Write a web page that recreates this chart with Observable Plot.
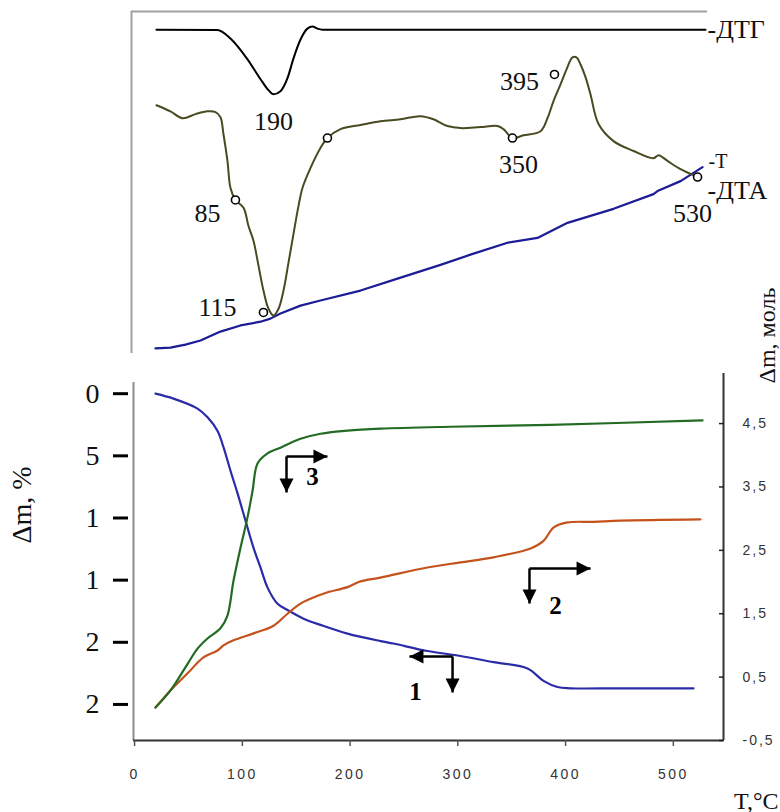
<!DOCTYPE html>
<html><head><meta charset="utf-8">
<script src="https://cdn.jsdelivr.net/npm/d3@7"></script>
<script src="https://cdn.jsdelivr.net/npm/@observablehq/plot@0.6"></script>
<style>
body{margin:0;background:#fff}
#chart{position:relative;width:780px;height:812px;overflow:hidden;background:#fff}
#chart svg{position:absolute;left:0;top:0}
</style></head><body><div id="chart"></div>
<script>
// ---------- data: upper panel (DTG, DTA, T), x = temperature °C, y = arbitrary signal ----------
const dtgTemp   = [20.3,76.9,89.0,104.8,116.9,124.3,128.9,135.4,141.9,147.5,154.0,160.4,165.1,169.7,174.4,529.9];
const dtgSignal = [94.7,94.6,92.1,86.0,80.2,77.0,75.8,76.7,80.5,86.3,91.8,95.0,95.6,95.0,94.7,94.7];

const dtaTemp   = [20.3,33.3,44.5,56.5,67.7,75.1,79.7,82.5,86.2,89.0,93.6,101.1,105.7,110.4,115.0,119.6,124.3,128.9,133.6,138.2,142.8,147.5,152.1,155.8,163.2,172.5,179.0,191.1,209.7,228.2,246.8,265.3,277.4,290.4,302.5,321.0,336.8,342.4,350.7,360.9,376.7,383.2,388.8,395.3,400.9,406.4,410.1,413.9,418.5,423.1,430.6,444.5,463.1,481.6,486.3,494.6,506.7,522.5];
const dtaSignal = [72.6,70.8,68.8,70.0,70.8,70.6,69.1,64.1,56.3,48.4,44.9,42.6,37.3,32.9,25.7,18.4,13.1,11.1,13.1,18.4,26.5,35.0,43.1,48.4,54.2,60.1,63.0,65.6,66.8,67.9,68.5,69.4,68.5,66.5,65.9,66.2,66.5,65.6,63.0,63.8,65.0,68.8,73.8,78.7,83.1,86.6,86.6,84.5,80.8,75.8,67.1,62.1,59.2,57.1,58.0,56.3,53.9,51.6];

const tTemp   = [19.4,33.3,47.2,61.2,79.7,98.3,116.9,126.1,135.4,154.0,172.5,209.7,244.0,283.9,311.7,346.1,373.9,401.8,444.5,481.6,485.3,506.7,527.1];
const tSignal = [1.5,1.7,2.6,3.8,6.4,8.2,9.3,10.2,11.7,14.0,15.5,18.4,21.9,25.9,28.9,32.4,33.8,38.2,42.3,46.6,47.5,50.4,54.5];

const markerTemp   = [93.6,119.6,179.0,350.7,389.7,522.5];
const markerSignal = [44.9,12.0,63.0,63.0,81.6,51.6];
const markerLabels = ["85","115","","350","395","530"];
const dtgPeakLabel = "190";
const seriesLabels = ["-ДТГ","-T","-ДТА"];

// ---------- data: lower panel ----------
const curve1Temp = [19.4,36.1,58.4,67.7,77.0,82.5,89.0,95.5,102.9,110.4,116.9,123.4,132.7,141.9,156.8,172.5,197.6,228.2,240.3,271.8,302.5,333.1,364.7,379.5,392.5,404.6,451.0,518.8];
const curve1Loss = [0.0,0.4,1.2,1.9,3.0,4.3,6.2,8.0,10.2,12.4,14.0,15.6,16.9,17.4,18.1,18.6,19.3,19.9,20.1,20.7,21.1,21.6,22.1,23.1,23.6,23.7,23.7,23.7];

const curve2Temp = [19.4,33.3,49.2,63.9,77.0,82.5,91.8,110.4,129.0,141.9,154.0,172.5,179.2,197.6,209.7,228.2,271.8,302.5,333.1,367.5,379.5,388.8,401.8,425.9,451.0,525.2];
const curve2Mol  = [0.02,0.29,0.56,0.81,0.92,1.00,1.08,1.19,1.31,1.50,1.66,1.80,1.84,1.92,2.01,2.07,2.23,2.31,2.39,2.53,2.65,2.86,2.94,2.95,2.97,2.99];

const curve3Temp = [19.4,33.3,49.2,58.4,67.7,79.7,86.2,91.8,98.3,104.8,109.5,114.1,123.4,135.4,154.0,172.5,197.6,228.2,293.2,386.0,527.1];
const curve3Mol  = [0.02,0.29,0.71,0.95,1.11,1.27,1.47,2.02,2.54,3.02,3.44,3.87,4.03,4.12,4.26,4.34,4.39,4.42,4.45,4.48,4.55];

const arrowNames     = ["1","2","3"];
const arrowCornerT   = [295.1,366.5,141.0];
const arrowCornerY   = [21.14,14.06,5.05];
const arrowHorizTipT = [255.1,423.2,179.0];
const arrowVertTipY  = [24.04,16.88,7.95];

const xTicks = [0,100,200,300,400,500];
const xTickLabels = ["0","100","200","300","400","500"];
const leftTicks = [0,5,10,15,20,25];
const leftTickLabels = ["0","5","1","1","2","2"];
const rightTicks = [-0.5,0.5,1.5,2.5,3.5,4.5];
const rightTickLabels = ["-0,5","0,5","1,5","2,5","3,5","4,5"];
const xTitle = "T,°C", leftTitle = "Δm, %", rightTitle = "Δm, моль";

// ---------- helpers ----------
const zipTV = (t, v) => t.map((d, i) => ({t: d, v: v[i]}));
const dtg = zipTV(dtgTemp, dtgSignal), dta = zipTV(dtaTemp, dtaSignal), tcur = zipTV(tTemp, tSignal);
const c1 = zipTV(curve1Temp, curve1Loss), c2 = zipTV(curve2Temp, curve2Mol), c3 = zipTV(curve3Temp, curve3Mol);
const markers = zipTV(markerTemp, markerSignal).map((d, i) => ({...d, label: markerLabels[i]}));
const dtgPeak = d3.least(dtg, d => d.v);

// shared temperature mapping: 0 °C at 134.08 px, 1.0775 px per °C
const X0 = 134.08, K = 1.0775;
const xdom = (a, b) => [(a - X0) / K, (b - X0) / K];

const SERIF = "Liberation Serif, Times New Roman, serif";
const SANS = "Liberation Sans, Arial, sans-serif";
const base = {width: 780, height: 812, style: {background: "transparent", overflow: "visible"}};
const chart = document.getElementById("chart");

// ---------- upper panel ----------
const xTop = xdom(131, 707);
const lab = (d, dx, dy, fs = 26) => Plot.text([d], {x: "t", y: "v", text: () => d.label, dx, dy, fontSize: fs, fontFamily: SERIF, fill: "#111", textAnchor: "middle", lineAnchor: "middle"});
const topPlot = Plot.plot({
  ...base,
  marginLeft: 131, marginRight: 73, marginTop: 11, marginBottom: 459,
  x: {domain: xTop, axis: null, label: null},
  y: {domain: [0, 100], axis: null, label: null},
  marks: [
    Plot.ruleX([xTop[0]], {stroke: "#a0a0a0", strokeWidth: 2}),
    Plot.ruleY([100], {stroke: "#a0a0a0", strokeWidth: 2}),
    Plot.line(tcur, {x: "t", y: "v", stroke: "#1c1c96", strokeWidth: 2.2}),
    Plot.line(dta, {x: "t", y: "v", stroke: "#4a4a22", strokeWidth: 2, curve: "catmull-rom"}),
    Plot.line(dtg, {x: "t", y: "v", stroke: "#000", strokeWidth: 2, curve: "monotone-x"}),
    Plot.dot(markers, {x: "t", y: "v", r: 4, fill: "#fff", stroke: "#000", strokeWidth: 1.6}),
    lab(markers[0], -28, 14), lab(markers[1], -46, -5), lab(markers[3], 6, 27),
    lab(markers[4], -35, 7), lab(markers[5], -5, 37),
    Plot.text([dtgPeak], {x: "t", y: "v", text: () => dtgPeakLabel, dy: 27, fontSize: 26, fontFamily: SERIF, fill: "#111"}),
    Plot.text([dtg[dtg.length - 1]], {x: "t", y: "v", text: () => seriesLabels[0], dx: 2, textAnchor: "start", fontSize: 26, fontFamily: SERIF, fill: "#111"}),
    Plot.text([tcur[tcur.length - 1]], {x: "t", y: "v", text: () => seriesLabels[1], dx: 6, dy: -6, textAnchor: "start", fontSize: 20, fontFamily: SERIF, fill: "#111"}),
    Plot.text([dta[dta.length - 1]], {x: "t", y: "v", text: () => seriesLabels[2], dx: 10, dy: 14, textAnchor: "start", fontSize: 26, fontFamily: SERIF, fill: "#111"})
  ]
});

// ---------- lower panel, left scale (Δm, %) ----------
const xLow = xdom(133, 723);
const yLeftDom = [-0.9, 27.9];
const head = (ux, uy) => ({draw(ctx) { const L = 14, W = 7; ctx.moveTo(0, 0); ctx.lineTo(-ux * L - uy * W, -uy * L + ux * W); ctx.lineTo(-ux * L + uy * W, -uy * L - ux * W); ctx.closePath(); }});
const arrows = arrowNames.map((n, i) => ({n, ct: arrowCornerT[i], cy: arrowCornerY[i], ht: arrowHorizTipT[i], vy: arrowVertTipY[i]}));
const arrowLabel = (i, dx, dy) => Plot.text([arrows[i]], {x: "ct", y: "cy", text: "n", dx, dy, fontSize: 25, fontWeight: "bold", fontFamily: SERIF, fill: "#000"});
const leftPlot = Plot.plot({
  ...base,
  marginLeft: 133, marginRight: 57, marginTop: 382, marginBottom: 72,
  x: {domain: xLow, label: null},
  y: {domain: yLeftDom, reverse: true, label: null},
  marks: [
    Plot.ruleX([xLow[0]], {stroke: "#8c8c8c", strokeWidth: 2}),
    Plot.ruleY([yLeftDom[1]], {stroke: "#333", strokeWidth: 2}),
    Plot.axisY(leftTicks, {anchor: "left", tickSize: 15, tickPadding: 14, dx: -5, strokeWidth: 3, stroke: "#000",
      tickFormat: d => leftTickLabels[leftTicks.indexOf(d)], fontSize: 28, fontFamily: SERIF, fill: "#111", label: null}),
    Plot.axisX(xTicks, {anchor: "bottom", tickSize: 6, tickPadding: 23, stroke: "#555", strokeWidth: 1.5,
      tickFormat: d => xTickLabels[xTicks.indexOf(d)], fontSize: 14, fontFamily: SANS, fill: "#333", label: null}),
    Plot.line(c1, {x: "t", y: "v", stroke: "#2b2ba8", strokeWidth: 2.2, curve: "catmull-rom"}),
    Plot.link(arrows, {x1: "ct", y1: "cy", x2: "ht", y2: "cy", stroke: "#000", strokeWidth: 2.5}),
    Plot.link(arrows, {x1: "ct", y1: "cy", x2: "ct", y2: "vy", stroke: "#000", strokeWidth: 2.5}),
    Plot.dot(arrows, {x: "ct", y: "vy", symbol: head(0, 1), r: 5, fill: "#000", stroke: "none"}),
    Plot.dot(arrows.filter(a => a.ht > a.ct), {x: "ht", y: "cy", symbol: head(1, 0), r: 5, fill: "#000", stroke: "none"}),
    Plot.dot(arrows.filter(a => a.ht < a.ct), {x: "ht", y: "cy", symbol: head(-1, 0), r: 5, fill: "#000", stroke: "none"}),
    arrowLabel(0, -37, 36), arrowLabel(1, 26, 38), arrowLabel(2, 26, 21),
    Plot.text([leftTitle], {frameAnchor: "left", dx: -111, dy: -18, rotate: -90, fontSize: 28, fontFamily: SERIF, fill: "#111"}),
    Plot.text([xTitle], {frameAnchor: "bottom-right", dx: 55, dy: 68, textAnchor: "end", lineAnchor: "bottom", fontSize: 24, fontFamily: SERIF, fill: "#111"})
  ]
});

// ---------- lower panel, right scale (Δm, моль) ----------
const yRightDom = [-0.5, 5.29];
const rightPlot = Plot.plot({
  ...base,
  marginLeft: 133, marginRight: 57, marginTop: 373, marginBottom: 72,
  x: {domain: xLow, axis: null, label: null},
  y: {domain: yRightDom, label: null},
  marks: [
    Plot.ruleX([xLow[1]], {stroke: "#333", strokeWidth: 2}),
    Plot.axisY(rightTicks, {anchor: "right", tickSize: 5, tickPadding: 19, dx: -5, stroke: "#222", strokeWidth: 1.5,
      tickFormat: d => rightTickLabels[rightTicks.indexOf(d)], fontSize: 14, fontFamily: SANS, fill: "#333", label: null}),
    Plot.line(c2, {x: "t", y: "v", stroke: "#c4521c", strokeWidth: 2.2, curve: "catmull-rom"}),
    Plot.line(c3, {x: "t", y: "v", stroke: "#236b23", strokeWidth: 2.2, curve: "catmull-rom"}),
    Plot.text([rightTitle], {frameAnchor: "top-right", dx: 51, dy: 10, rotate: -90, textAnchor: "start", lineAnchor: "bottom", fontSize: 24, fontFamily: SERIF, fill: "#111"})
  ]
});

chart.append(topPlot, leftPlot, rightPlot);
d3.select(leftPlot).selectAll('g[aria-label="x-axis tick label"] text').style("letter-spacing", "2.5px");
d3.select(rightPlot).selectAll('g[aria-label="y-axis tick label"] text').style("letter-spacing", "2px");
</script></body></html>
